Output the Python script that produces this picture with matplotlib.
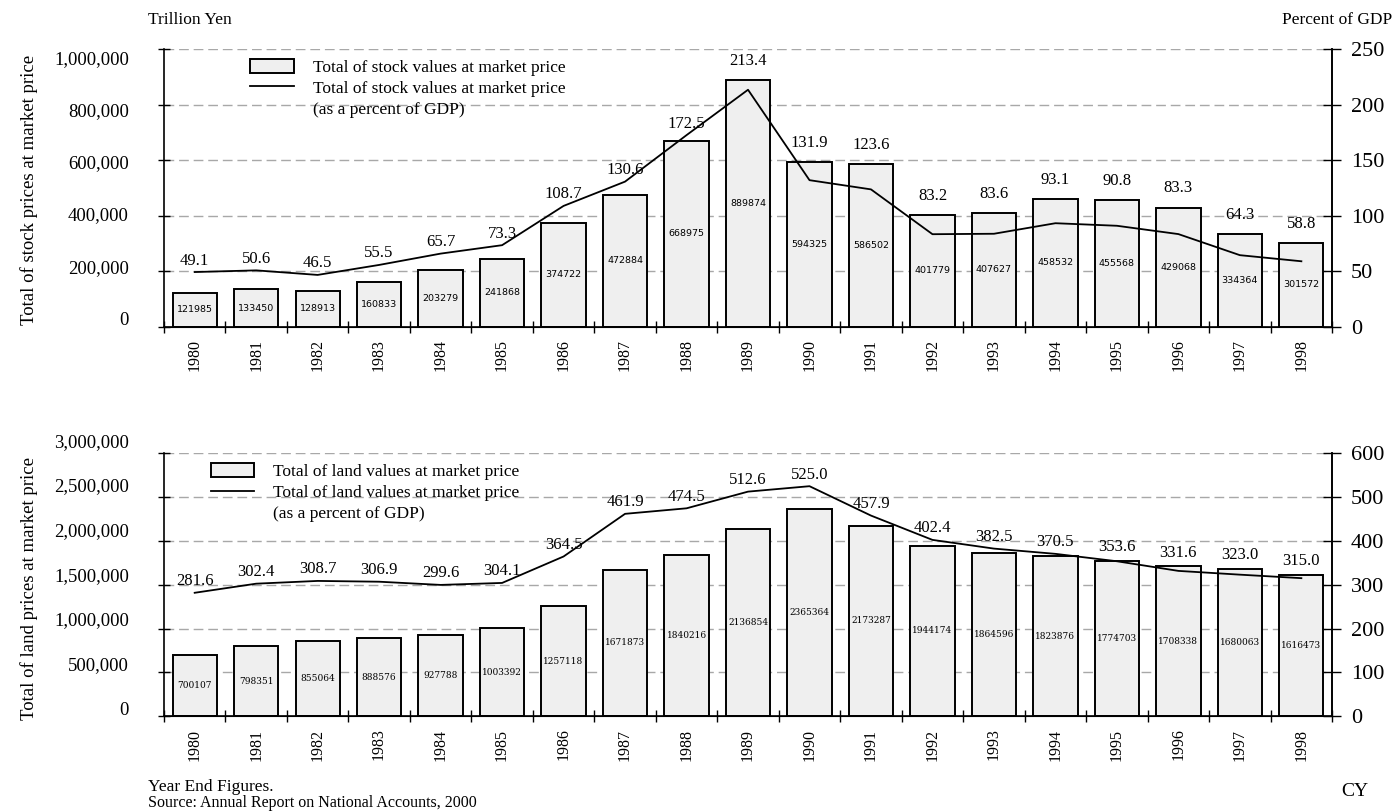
import numpy as np
import matplotlib.pyplot as plt
from matplotlib.patches import Patch
from matplotlib.lines import Line2D
from matplotlib.transforms import ScaledTranslation, blended_transform_factory

years = list(range(1980, 1999))

stock_values = [121985, 133450, 128913, 160833, 203279, 241868, 374722, 472884,
                668975, 889874, 594325, 586502, 401779, 407627, 458532, 455568,
                429068, 334364, 301572]
stock_pct = [49.1, 50.6, 46.5, 55.5, 65.7, 73.3, 108.7, 130.6, 172.5, 213.4,
             131.9, 123.6, 83.2, 83.6, 93.1, 90.8, 83.3, 64.3, 58.8]

land_values = [700107, 798351, 855064, 888576, 927788, 1003392, 1257118, 1671873,
               1840216, 2136854, 2365364, 2173287, 1944174, 1864596, 1823876,
               1774703, 1708338, 1680063, 1616473]
land_pct = [281.6, 302.4, 308.7, 306.9, 299.6, 304.1, 364.5, 461.9, 474.5, 512.6,
            525.0, 457.9, 402.4, 382.5, 370.5, 353.6, 331.6, 323.0, 315.0]

plt.rcParams['font.family'] = ['Liberation Serif', 'DejaVu Serif']

BAR_FILL = '#efefef'
GRID = '#a8a8a8'


def draw_panel(fig, ax, values, pct, vmax, vstep, pmax, pstep, legend_text,
               legend_anchor, left_shift, bar_font, bar_pad):
    x = np.arange(len(years))
    ax.set_axisbelow(True)
    ax.bar(x, values, width=0.72, color=BAR_FILL, edgecolor='black',
           linewidth=1.4, zorder=2)
    ax.set_xlim(-0.5, len(years) - 0.5)
    ax.set_ylim(0, vmax)

    # value inside each bar, half way up
    for xi, v in zip(x, values):
        ax.text(xi, v / 2, str(v), ha='center', va='center', zorder=3,
                **bar_font)

    # dashed grid; left tick labels are plain text so they can be nudged
    ticks = np.arange(0, vmax + 1, vstep)
    ax.set_yticks(ticks)
    ax.set_yticklabels([])
    ax.yaxis.grid(True, linestyle=(0, (7, 3.5)), color=GRID, linewidth=1)
    ax.tick_params(axis='y', direction='inout', length=9, width=1)
    trans = blended_transform_factory(ax.transAxes, ax.transData)
    n = len(ticks)
    for i, t in enumerate(ticks):
        dy = left_shift[0] + (left_shift[1] - left_shift[0]) * i / (n - 1)
        off = ScaledTranslation(0, dy / 100, fig.dpi_scale_trans)
        ax.text(-0.030, t, f'{int(t):,}', ha='right', va='center',
                fontsize=13.5, transform=trans + off)

    # year ticks: marks on slot boundaries, labels at centres
    ax.set_xticks(np.arange(-0.5, len(years) + 0.5, 1))
    ax.set_xticklabels([])
    ax.tick_params(axis='x', direction='inout', length=9, width=1)
    ax.set_xticks(x, minor=True)
    ax.set_xticklabels([str(y) for y in years], minor=True, rotation=90,
                       fontsize=11.5)
    ax.tick_params(axis='x', which='minor', length=0, pad=9)

    ax.spines['top'].set_visible(False)
    for side in ('left', 'bottom', 'right'):
        ax.spines[side].set_linewidth(1.2)

    ax2 = ax.twinx()
    ax2.plot(x, pct, color='black', linewidth=1.3, zorder=4)
    ax2.set_ylim(0, pmax)
    ax2.set_yticks(np.arange(0, pmax + 1, pstep))
    ax2.tick_params(axis='y', direction='inout', length=13, width=1,
                    labelsize=16, pad=7)
    ax2.spines['top'].set_visible(False)
    ax2.spines['right'].set_linewidth(1.2)
    ax2.spines['left'].set_visible(False)

    # percent labels sit above whichever is higher: bar top or line point
    for xi, v, p in zip(x, values, pct):
        bar_top = v / vmax * pmax
        if bar_top > p:
            anchor, pad = bar_top, bar_pad
        else:
            anchor, pad = p, 2.5
        ax2.annotate(f'{p:.1f}', (xi, anchor), xytext=(0, pad),
                     textcoords='offset points', ha='center', va='bottom',
                     fontsize=12)

    handles = [Patch(facecolor=BAR_FILL, edgecolor='black', linewidth=1.4),
               Line2D([], [], color='black', linewidth=1.3),
               Line2D([], [], color='none')]
    labels = [legend_text, legend_text, '(as a percent of GDP)']
    ax2.legend(handles, labels, loc='upper left', bbox_to_anchor=legend_anchor,
               frameon=False, fontsize=12.5, handlelength=2.5,
               handleheight=0.9, labelspacing=0.22, handletextpad=1.1,
               borderaxespad=0)
    return ax2


fig = plt.figure(figsize=(13.94, 8.11), dpi=100)
ax_top = fig.add_axes([0.1176, 0.5974, 0.838, 0.342])
ax_bot = fig.add_axes([0.1176, 0.117, 0.838, 0.324])

draw_panel(fig, ax_top, stock_values, stock_pct, 1_000_000, 200_000, 250, 50,
           'Total of stock values at market price', (0.068, 0.99),
           (6, -10), dict(family='DejaVu Sans', fontsize=6.8), 8)
draw_panel(fig, ax_bot, land_values, land_pct, 3_000_000, 500_000, 600, 100,
           'Total of land values at market price', (0.034, 0.99),
           (6, 11), dict(family='DejaVu Serif', fontsize=6.5), 4)

fig.text(29 / 1394, 1 - 190 / 811, 'Total of stock prices at market price',
         rotation=90, ha='center', va='center', fontsize=13.5)
fig.text(29 / 1394, 1 - 588 / 811, 'Total of land prices at market price',
         rotation=90, ha='center', va='center', fontsize=13.5)

fig.text(0.106, 0.975, 'Trillion Yen', fontsize=12.5, va='center')
fig.text(0.999, 0.975, 'Percent of GDP', fontsize=12.5, va='center', ha='right')
fig.text(0.106, 1 - 787 / 811, 'Year End Figures.', fontsize=12.5, va='center')
fig.text(0.962, 1 - 792 / 811, 'CY', fontsize=14, va='center')
fig.text(0.106, 1 - 803 / 811, 'Source: Annual Report on National Accounts, 2000',
         fontsize=11.5, va='center')

fig.savefig('out.png', dpi=100)
